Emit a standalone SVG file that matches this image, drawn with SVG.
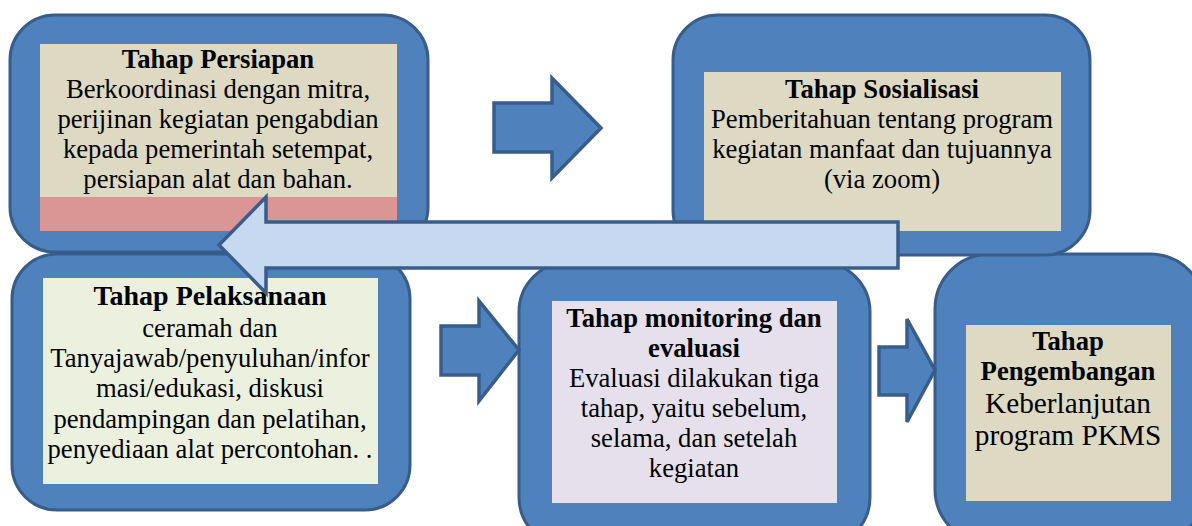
<svg xmlns="http://www.w3.org/2000/svg" width="1192" height="526" viewBox="0 0 1192 526" font-family="'Liberation Serif', 'DejaVu Serif', serif">
<style>
.outer{fill:#4F81BD;stroke:#385D8A;stroke-width:3}
.arr{fill:#4F81BD;stroke:#385D8A;stroke-width:3.5;stroke-linejoin:miter}
.big{fill:#C6D9F1;stroke:#385D8A;stroke-width:3.5;stroke-linejoin:miter}
text{fill:#000;text-anchor:middle}
.t{font-weight:bold;font-size:26.67px}
.b{font-size:26.67px}
</style>
<rect width="1192" height="526" fill="#fff"/>
<g id="node-pengembangan">
<rect class="outer" x="935" y="254" width="270" height="290" rx="55"/>
<rect x="966" y="325" width="205" height="176" fill="#DDD9C3"/>
<text class="t" x="1068" y="350">Tahap</text>
<text class="t" x="1068" y="380">Pengembangan</text>
<text class="b" x="1068" y="413" style="font-size:29.3px">Keberlanjutan</text>
<text class="b" x="1068" y="445" style="font-size:29.3px">program PKMS</text>
</g>
<g id="node-monitoring">
<rect class="outer" x="519" y="262" width="351" height="285" rx="50"/>
<rect x="552" y="301" width="285" height="202" fill="#E5E0EC"/>
<text class="t" x="694" y="327">Tahap monitoring dan</text>
<text class="t" x="694" y="357">evaluasi</text>
<text class="b" x="694" y="387">Evaluasi dilakukan tiga</text>
<text class="b" x="694" y="417">tahap, yaitu sebelum,</text>
<text class="b" x="694" y="447">selama, dan setelah</text>
<text class="b" x="694" y="477">kegiatan</text>
</g>
<g id="node-pelaksanaan">
<rect class="outer" x="12" y="254" width="398" height="256" rx="45"/>
<rect x="43" y="278" width="335" height="206" fill="#EBF1DE"/>
<text class="t" x="210" y="305" style="font-size:28px">Tahap Pelaksanaan</text>
<text class="b" x="210" y="337">ceramah dan</text>
<text class="b" x="210" y="367">Tanyajawab/penyuluhan/infor</text>
<text class="b" x="210" y="397">masi/edukasi, diskusi</text>
<text class="b" x="210" y="428">pendampingan dan pelatihan,</text>
<text class="b" x="210" y="458">penyediaan alat percontohan. .</text>
</g>
<g id="node-persiapan">
<rect class="outer" x="10" y="15" width="418" height="237" rx="45"/>
<rect x="40" y="44" width="357" height="187" fill="#DDD9C3"/>
<rect x="40" y="197" width="357" height="34" fill="#D99694"/>
<text class="t" x="218" y="68">Tahap Persiapan</text>
<text class="b" x="218" y="98">Berkoordinasi dengan mitra,</text>
<text class="b" x="218" y="128">perijinan kegiatan pengabdian</text>
<text class="b" x="218" y="158">kepada pemerintah setempat,</text>
<text class="b" x="218" y="188">persiapan alat dan bahan.</text>
</g>
<g id="node-sosialisasi">
<rect class="outer" x="673" y="15" width="417" height="240" rx="45"/>
<rect x="704" y="72" width="357" height="159" fill="#DDD9C3"/>
<text class="t" x="882" y="98">Tahap Sosialisasi</text>
<text class="b" x="882" y="128">Pemberitahuan tentang program</text>
<text class="b" x="882" y="158">kegiatan manfaat dan tujuannya</text>
<text class="b" x="882" y="188">(via zoom)</text>
</g>
<g id="connectors">
<polygon class="arr" points="494,103 552,103 552,78 601,128 552,178 552,152 494,152"/>
<polygon class="arr" points="441,326 479,326 479,301 519,350 479,401 479,375 441,375"/>
<polygon class="arr" points="879,347 907,347 907,319 935,370 907,422 907,395 879,395"/>
<polygon class="big" points="898,222 266,222 266,197 219,245 266,293 266,268 898,268"/>
</g>
</svg>
